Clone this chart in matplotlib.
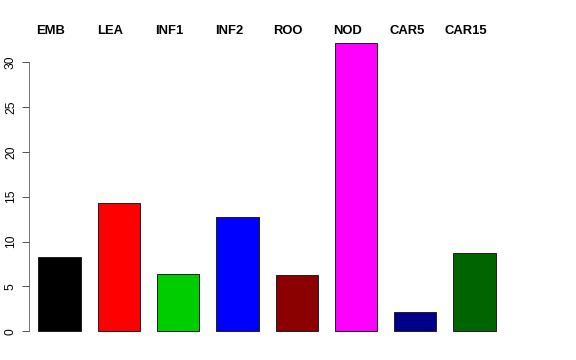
import matplotlib
matplotlib.use("Agg")
import matplotlib.pyplot as plt

categories = ["EMB", "LEA", "INF1", "INF2", "ROO", "NOD", "CAR5", "CAR15"]
values = [8.25, 14.27, 6.4, 12.7, 6.24, 32.08, 2.1, 8.76]
colors = ["#000000", "#FF0000", "#00CD00", "#0000FF", "#8B0000", "#FF00FF", "#00008B", "#006400"]
yticks = [0, 5, 10, 15, 20, 25, 30]

plt.rcParams['font.family'] = ['Liberation Sans', 'DejaVu Sans']

W, H = 576, 360
fig = plt.figure(figsize=(8, 5), dpi=72)
left_px, right_px = 29, 547
top_px, bottom_px = 31.8, 342.8
ax = fig.add_axes([left_px / W, 1 - bottom_px / H, (right_px - left_px) / W, (bottom_px - top_px) / H])

px_per_unit = 42.36
xl = 0.4 - (38.3 - left_px) / px_per_unit
xr = 0.4 + (right_px - 38.3) / px_per_unit
centers = [0.9 + 1.4 * i for i in range(len(values))]
ax.bar(centers, values, width=1.0, color=colors, edgecolor="#222222", linewidth=1.0)
ax.set_xlim(xl, xr)
ymax = max(values)
ax.set_ylim(-0.04 * ymax, ymax * 1.04)

for s in ["top", "right", "bottom"]:
    ax.spines[s].set_visible(False)
ax.spines["left"].set_bounds(0, 30)
ax.spines["left"].set_color("#555555")
ax.set_xticks([])
ax.set_yticks(yticks)
ax.set_yticklabels([str(t) for t in yticks], rotation=90, va="center", fontsize=12)
ax.tick_params(axis="y", length=7, width=1, color="#555555", pad=5)

for c, lab in zip(centers, categories):
    fig.text((left_px + (c - 0.2 - xl) * px_per_unit) / W, 1 - 30.5 / H, lab,
             ha="center", va="center", fontsize=13, fontweight="bold")

fig.savefig("out.png", dpi=72)
